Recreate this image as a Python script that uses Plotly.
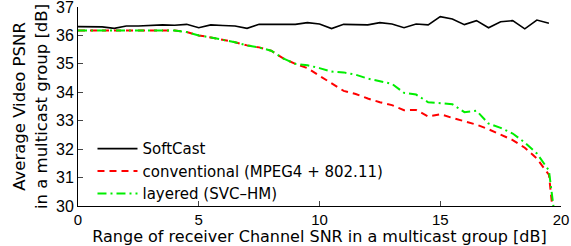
import plotly.graph_objects as go

snr = [0, 0.5, 1, 1.5, 2, 2.5, 3, 3.5, 4, 4.5, 5, 5.5, 6, 6.5, 7, 7.5, 8, 8.5, 9, 9.5,
       10, 10.5, 11, 11.5, 12, 12.5, 13, 13.5, 14, 14.5, 15, 15.5, 16, 16.5, 17, 17.5,
       18, 18.5, 19, 19.5]
softcast = [36.31, 36.31, 36.30, 36.25, 36.33, 36.33, 36.35, 36.37, 36.36, 36.39,
            36.27, 36.37, 36.35, 36.33, 36.25, 36.39, 36.39, 36.39, 36.39, 36.45,
            36.40, 36.24, 36.39, 36.38, 36.37, 36.45, 36.40, 36.27, 36.40, 36.37,
            36.66, 36.58, 36.38, 36.52, 36.27, 36.48, 36.52, 36.23, 36.54, 36.43]

snr_end = snr + [19.7]
conventional = [36.17, 36.17, 36.17, 36.17, 36.17, 36.17, 36.17, 36.17, 36.17, 36.12,
                36.00, 35.93, 35.85, 35.76, 35.65, 35.58, 35.46, 35.19, 35.00, 34.85,
                34.58, 34.30, 34.05, 33.94, 33.78, 33.65, 33.55, 33.37, 33.38, 33.15,
                33.23, 33.10, 32.98, 32.86, 32.70, 32.50, 32.32, 32.05, 31.67, 31.10,
                29.5]
layered = [36.17, 36.17, 36.17, 36.17, 36.17, 36.17, 36.17, 36.17, 36.17, 36.12,
           36.00, 35.93, 35.85, 35.76, 35.65, 35.58, 35.46, 35.19, 35.00, 34.95,
           34.85, 34.73, 34.70, 34.62, 34.48, 34.40, 34.30, 33.98, 33.92, 33.65,
           33.62, 33.58, 33.30, 33.35, 32.90, 32.75, 32.55, 32.23, 31.85, 31.25,
           29.9]

names = ["SoftCast", "conventional (MPEG4 + 802.11)", "layered (SVC\u2013HM)"]
x_ticks = [0, 5, 10, 15, 20]
y_ticks = [30, 31, 32, 33, 34, 35, 36, 37]

tick_font = "Liberation Sans, Arial, sans-serif"
text_font = "DejaVu Sans, sans-serif"

fig = go.Figure()
fig.add_trace(go.Scatter(x=snr, y=softcast, mode="lines", name=names[0],
                         line=dict(color="black", width=1.6)))
fig.add_trace(go.Scatter(x=snr_end, y=conventional, mode="lines", name=names[1],
                         line=dict(color="#ff0000", width=2, dash="7px,5px")))
fig.add_trace(go.Scatter(x=snr_end, y=layered, mode="lines", name=names[2],
                         line=dict(color="#00ee00", width=2, dash="9px,4px,2px,4px")))

fig.update_layout(
    width=571, height=246,
    margin=dict(l=78, r=10, t=7, b=40, autoexpand=False),
    paper_bgcolor="white", plot_bgcolor="white",
    font=dict(family=tick_font, size=16, color="black"),
    showlegend=True,
    legend=dict(x=0.03, y=0.37, xanchor="left", yanchor="top",
                bgcolor="rgba(0,0,0,0)", borderwidth=0,
                font=dict(family=text_font, size=15, color="black"),
                tracegroupgap=0, itemwidth=40),
    xaxis=dict(range=[0, 20], tickvals=x_ticks, ticks="inside", ticklen=5,
               showline=True, linecolor="black", linewidth=1, showgrid=False,
               zeroline=False, tickfont=dict(family=tick_font, size=15),
               automargin=False, ticklabeloverflow="allow",
               title=dict(text="Range of receiver Channel SNR in a multicast group [dB]",
                          font=dict(family=text_font, size=16), standoff=4)),
    yaxis=dict(range=[30, 37], tickvals=y_ticks, ticks="inside", ticklen=5,
               showline=True, linecolor="black", linewidth=1, showgrid=False,
               zeroline=False, tickfont=dict(family=tick_font, size=16),
               automargin=False, ticklabeloverflow="allow",
               title=dict(text="Average Video PSNR<br>in a multicast group [dB]",
                          font=dict(family=text_font, size=16.5), standoff=4)),
)

fig.write_html("out.html", config={"displayModeBar": False},
               post_script="document.body.style.margin='0';document.body.style.padding='0';")
